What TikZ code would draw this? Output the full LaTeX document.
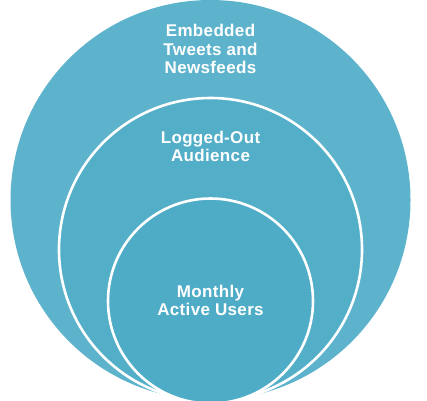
\documentclass[tikz,border=0pt]{standalone}
\usepackage{fontspec}
\setmainfont{Liberation Sans}[LetterSpace=2]
\definecolor{outerc}{HTML}{5EB3CC}
\definecolor{midc}{HTML}{53AEC8}
\definecolor{innerc}{HTML}{4FACC7}
\begin{document}
\begin{tikzpicture}[x=1pt,y=-1pt,
  ring/.style={draw=white,line width=2.6pt},
  lbl/.style={text=white,font=\bfseries\fontsize{17}{18.5}\selectfont,align=center,inner sep=0pt}]
\useasboundingbox (0,0) rectangle (427,400);
\begin{scope}
\clip (0,0) rectangle (427,400);
\fill[outerc] (210.5,200) circle[radius=200];
\filldraw[ring,fill=midc] (210.5,249.5) circle[radius=151.5];
\filldraw[ring,fill=innerc] (210.5,301) circle[radius=102.5];
\end{scope}
\node[lbl] (outer) at (210.5,49) {Embedded\\Tweets and\\Newsfeeds};
\node[lbl] (mid) at (210.5,146.5) {Logged-Out\\Audience};
\node[lbl] (inner) at (210.5,300.5) {Monthly\\Active Users};
\end{tikzpicture}
\end{document}
